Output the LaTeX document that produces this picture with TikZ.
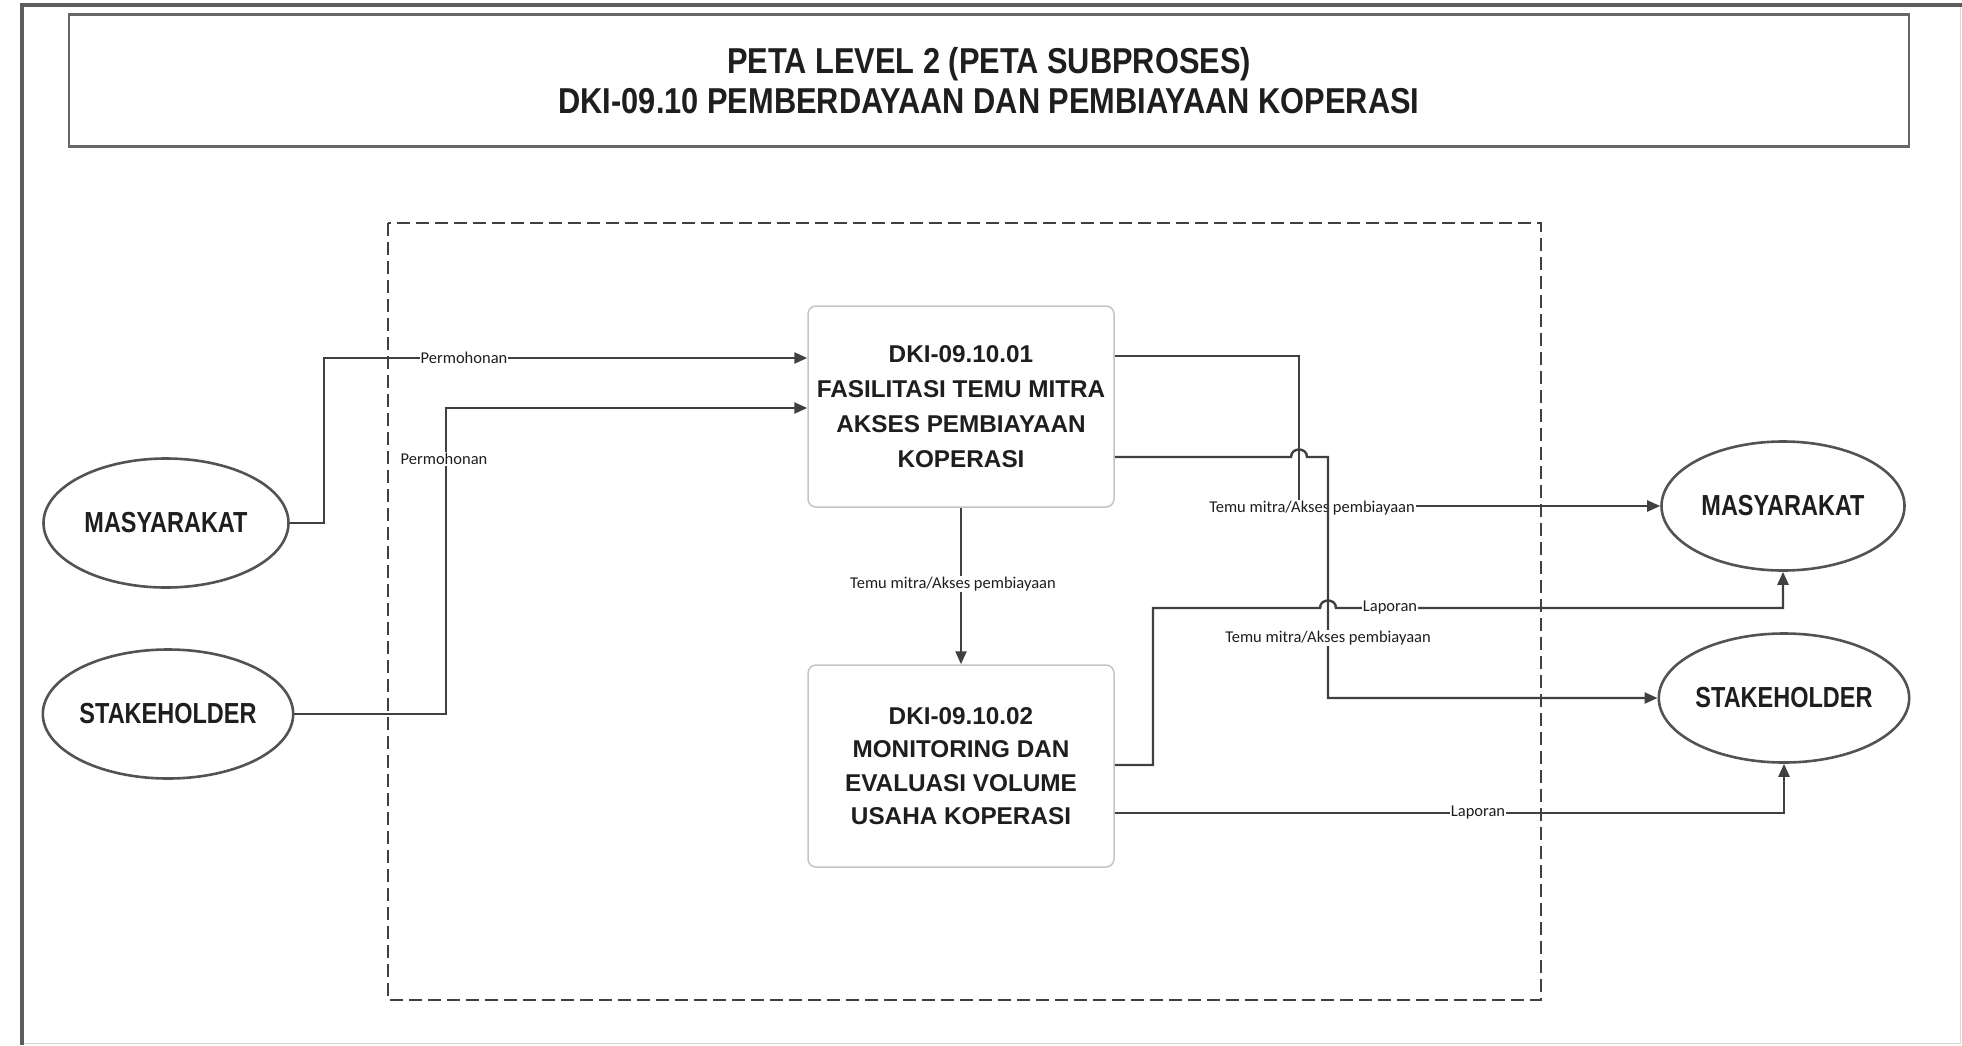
\documentclass[tikz,border=0pt]{standalone}
\usepackage{fontspec}
\setmainfont{Liberation Sans}
\newfontfamily\titlefont[FakeStretch=0.855]{Liberation Sans}
\newfontfamily\ellfont[FakeStretch=0.81]{Liberation Sans}
\newfontfamily\lblfont{Carlito}
\usetikzlibrary{arrows.meta,shapes.geometric,calc}
\definecolor{ln}{HTML}{404040}
\definecolor{txt}{HTML}{1E1E1E}
\definecolor{boxln}{HTML}{C4C4C4}
\begin{document}
\begin{tikzpicture}[x=1pt,y=-1pt,
  conn/.style={draw=ln,line width=2.4pt},
  arr/.style={conn,-{Triangle[length=13pt,width=11pt]}},
  procbox/.style={draw=boxln,line width=1.5pt,rounded corners=8pt,fill=white,
    minimum width=306pt,align=center,text=txt,
    font=\fontsize{24.3}{35}\selectfont\bfseries},
  ent/.style={ellipse,draw=ln!90,line width=2.6pt,minimum width=245pt,minimum height=129pt,
    inner sep=0pt,text=txt,font=\fontsize{29}{32}\selectfont\ellfont\bfseries},
  lbl/.style={fill=white,inner sep=1pt,text=txt,font=\fontsize{16.5}{18}\selectfont\lblfont},
  frame/.style={draw=ln!85,line width=3.5pt}
]
\useasboundingbox (0,0) rectangle (1962,1045);
% outer frame
\draw[draw=black!15,line width=1pt] (1960,5) -- (1960,1043) -- (22,1043);
\draw[frame] (22,1045) -- (22,5) -- (1962,5);
% title
\node[draw=ln!80,line width=2.5pt,minimum width=1840pt,minimum height=132pt,inner sep=0pt] (tbox) at (989,80.5) {};
\node[align=center,text=txt,font=\fontsize{36}{40}\selectfont\titlefont\bfseries] (title) at (989,81)
  {PETA LEVEL 2 (PETA SUBPROSES)\\DKI-09.10 PEMBERDAYAAN DAN PEMBIAYAAN KOPERASI};
% dashed boundary
\draw[draw=ln,line width=2pt,dash pattern=on 13pt off 6pt] (388,223) rectangle (1541,1000);
% process boxes
\node[procbox,minimum height=201pt] (box1) at (961,406.5)
  {DKI-09.10.01\\FASILITASI TEMU MITRA\\AKSES PEMBIAYAAN\\KOPERASI};
\node[procbox,minimum height=202pt,font=\fontsize{24.3}{33.3}\selectfont\bfseries] (box2) at (961,766)
  {DKI-09.10.02\\MONITORING DAN\\EVALUASI VOLUME\\USAHA KOPERASI};
% entities
\node[ent] (ml) at (166,523) {MASYARAKAT};
\node[ent] (sl) at (168,714) {STAKEHOLDER};
\node[ent,minimum width=243pt] (mr) at (1783,506) {MASYARAKAT};
\node[ent,minimum width=242pt] (sr) at (1784,698) {STAKEHOLDER};
% bend coordinates
\coordinate (b1) at (324,358);
\coordinate (b2) at (446,408);
\coordinate (c3) at (1299,356);
\coordinate (c4) at (1328,457);
\coordinate (d6) at (1153,765);
\coordinate (e6) at (1783,608);
\coordinate (f7) at (1785,813);
% connectors
\draw[arr] (ml.east) -| (b1) -- (box1.west |- b1);
\node[lbl] (l1) at (464,358) {Permohonan};
\draw[arr] (sl.east) -| (b2) -- (box1.west |- b2);
\node[lbl] (l2) at (444,459) {Permohonan};
\draw[arr] (box1.east |- c3) -- (c3) |- (mr.west);
\node[lbl] (l3) at (1312,508) {Temu mitra/Akses pembiayaan};
\draw[arr] (box1.east |- c4) -- ($(c3|-c4)+(-8,0)$)
  .. controls ($(c3|-c4)+(-8,-10)$) and ($(c3|-c4)+(8,-10)$) .. ($(c3|-c4)+(8,0)$)
  -- (c4) |- (sr.west);
\node[lbl] (l4) at (1328,638) {Temu mitra/Akses pembiayaan};
\draw[arr] (box1.south) -- (box2.north);
\node[lbl] (l5) at (953,584) {Temu mitra/Akses pembiayaan};
\draw[arr] (box2.east |- d6) -- (d6) -- (d6 |- e6) -- ($(c4|-e6)+(-8,0)$)
  .. controls ($(c4|-e6)+(-8,-10)$) and ($(c4|-e6)+(8,-10)$) .. ($(c4|-e6)+(8,0)$)
  -- (e6) -- (mr.south);
\node[lbl] (l6) at (1390,608) {Laporan};
\draw[arr] (box2.east |- f7) -| (sr.south);
\node[lbl] (l7) at (1478,813) {Laporan};
\end{tikzpicture}
\end{document}
